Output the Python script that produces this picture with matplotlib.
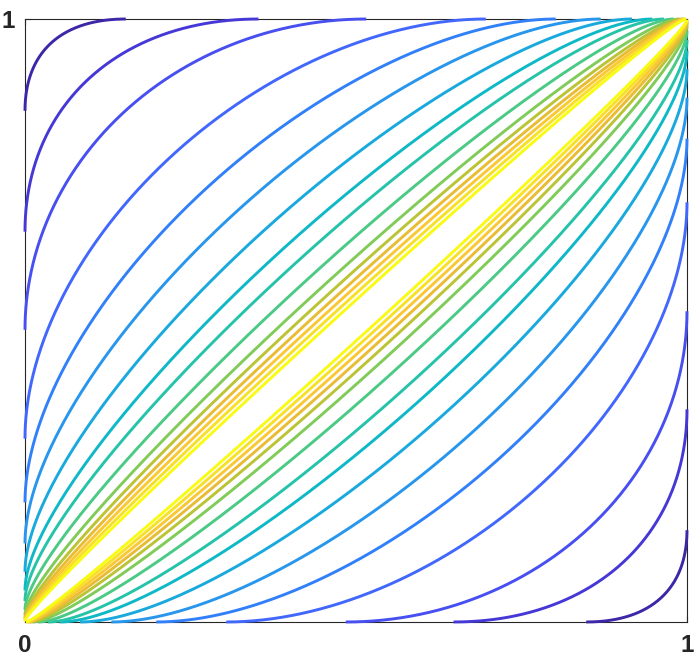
"""Nested tangent arcs in the unit square, parula colours from edge to diagonal."""
import numpy as np
import matplotlib.pyplot as plt
from matplotlib.colors import LinearSegmentedColormap

# phase offset (radians) of each curve pair, outermost -> closest to diagonal
phase = [2.34, 1.87, 1.54, 1.168, 0.923, 0.739, 0.585, 0.462,
         0.375, 0.284, 0.214, 0.171, 0.140, 0.114, 0.090, 0.068]

x_ticks = [0, 1]
x_tick_labels = ["0", "1"]
y_ticks = [1]
y_tick_labels = ["1"]

# MATLAB parula, every 4th entry of the 64-colour table
PARULA = [
    (0.2422, 0.1504, 0.6603), (0.2706, 0.2147, 0.8364), (0.2813, 0.3006, 0.9414),
    (0.2699, 0.3892, 0.9906), (0.1963, 0.4847, 0.9892), (0.1687, 0.5703, 0.9359),
    (0.1248, 0.6459, 0.8883), (0.0297, 0.7082, 0.8163), (0.0964, 0.7500, 0.7120),
    (0.2161, 0.7843, 0.5923), (0.3909, 0.8029, 0.4354), (0.6174, 0.7876, 0.2612),
    (0.8203, 0.7498, 0.1535), (0.9728, 0.7298, 0.2394), (0.9892, 0.8136, 0.1885),
    (0.9597, 0.9135, 0.1423), (0.9769, 0.9839, 0.0805),
]
pos = [i * 4 / 63 for i in range(16)] + [1.0]
parula = LinearSegmentedColormap.from_list("parula", list(zip(pos, PARULA)))

AX_COL = (0.15, 0.15, 0.15)

fig = plt.figure(figsize=(7, 6.6), dpi=100, facecolor="white")
ax = fig.add_axes([0.0357, 0.0576, 0.9457, 0.9136])

n = len(phase)
for k, c in enumerate(phase):
    col = parula(k / (n - 1))
    u = np.linspace(-np.pi / 2, np.pi / 2 - c, 400)
    xs = (1 + np.sin(u)) / 2
    ys = (1 + np.sin(u + c)) / 2
    ax.plot(xs, ys, color=col, lw=2.1, solid_capstyle="butt", clip_on=False)
    ax.plot(ys, xs, color=col, lw=2.1, solid_capstyle="butt", clip_on=False)

ax.set_xlim(0, 1)
ax.set_ylim(0, 1)
ax.set_xticks(x_ticks)
ax.set_xticklabels(x_tick_labels)
ax.set_yticks(y_ticks)
ax.set_yticklabels(y_tick_labels)
ax.tick_params(direction="in", length=4, width=0.8, color=AX_COL,
               top=True, right=True, labelcolor=AX_COL)
ax.tick_params(axis="x", pad=9)
ax.tick_params(axis="y", pad=7)
for lab in ax.get_xticklabels() + ax.get_yticklabels():
    lab.set_fontfamily("Liberation Sans")
    lab.set_fontweight("bold")
    lab.set_fontsize(17.5)
for sp in ax.spines.values():
    sp.set_color(AX_COL)
    sp.set_linewidth(0.8)
    sp.set_zorder(0.5)

fig.savefig("out.png", dpi=100, facecolor="white")
plt.close(fig)
